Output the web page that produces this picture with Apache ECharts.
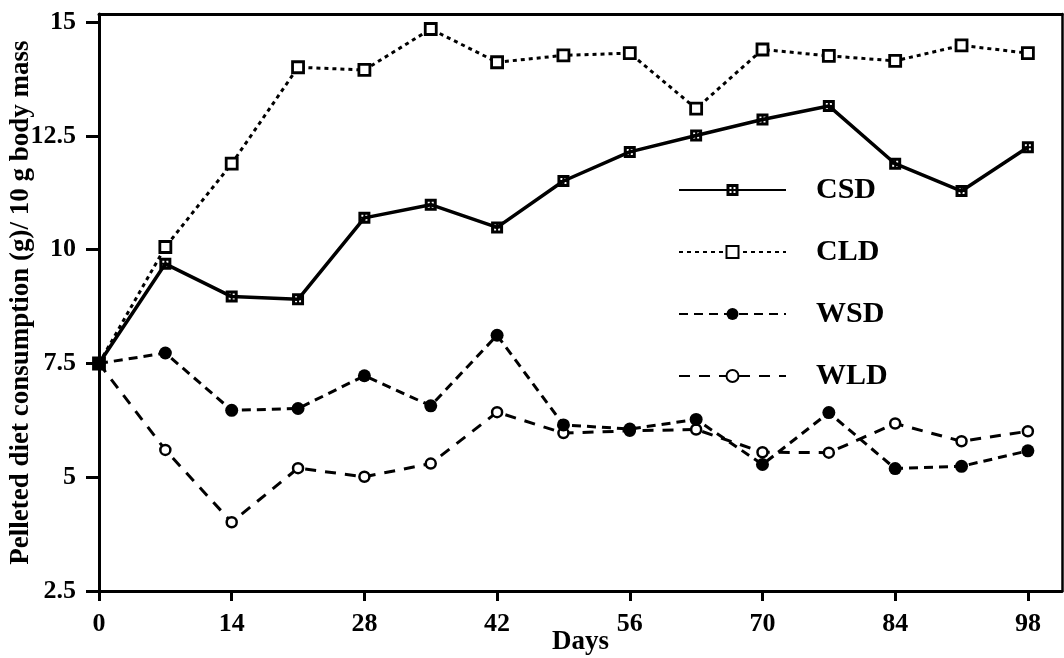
<!DOCTYPE html>
<html>
<head>
<meta charset="utf-8">
<title>Pelleted diet consumption</title>
<script src="https://cdn.jsdelivr.net/npm/echarts@6/dist/echarts.min.js"></script>
<style>
  html, body { margin: 0; padding: 0; background: #fff; }
  #chart { width: 1064px; height: 658px; }
</style>
</head>
<body>
<div id="chart"></div>
<script>
// Sampling days (weekly)
const days = [0, 7, 14, 21, 28, 35, 42, 49, 56, 63, 70, 77, 84, 91, 98];

// Consumption, g per 10 g body mass
const csd = [7.5, 9.69, 8.97, 8.91, 10.70, 10.99, 10.49, 11.51, 12.15, 12.51, 12.86, 13.16, 11.89, 11.29, 12.25];
const cld = [7.5, 10.06, 11.89, 14.01, 13.95, 14.85, 14.12, 14.27, 14.32, 13.10, 14.40, 14.26, 14.15, 14.49, 14.32];
const wsd = [7.5, 7.73, 6.47, 6.51, 7.23, 6.57, 8.12, 6.15, 6.06, 6.27, 5.28, 6.42, 5.19, 5.24, 5.58];
const wld = [7.5, 5.60, 4.01, 5.20, 5.01, 5.30, 6.43, 5.97, 6.02, 6.05, 5.55, 5.54, 6.18, 5.79, 6.01];

// Axis tick labels
const xTicks = [0, 14, 28, 42, 56, 70, 84, 98];
const yTicks = [2.5, 5, 7.5, 10, 12.5, 15];

const seriesNames = ['CSD', 'CLD', 'WSD', 'WLD'];

const FONT = '"Liberation Serif", "DejaVu Serif", serif';
const INK = '#000';

// Black square with four small white windows
const gridSquare = 'path://M0,0H12V12H0Z M3,3V5H5V3Z M7,3V5H9V3Z M3,7V9H5V7Z M7,7V9H9V7Z';

const pairs = vals => days.map((d, i) => [d, vals[i]]);

const chart = echarts.init(document.getElementById('chart'), null, { renderer: 'canvas' });

const labelStyle = { color: INK, fontFamily: FONT, fontWeight: 'bold', fontSize: 26 };

chart.setOption({
  animation: false,
  backgroundColor: '#fff',
  grid: { left: 99, right: 2, top: 14, bottom: 67, containLabel: false, outerBoundsMode: 'none' },
  legend: {
    data: seriesNames,
    orient: 'vertical',
    left: 673,
    top: 170,
    itemWidth: 107,
    itemHeight: 15,
    itemGap: 32,
    selectedMode: false,
    textStyle: {
      color: INK, fontFamily: FONT, fontWeight: 'bold', fontSize: 30,
      padding: [0, 0, 0, 25]
    }
  },
  xAxis: [{
    type: 'value',
    min: 0,
    max: 101.6,
    interval: 14,
    name: 'Days',
    nameLocation: 'middle',
    nameGap: 38,
    nameMoveOverlap: false,
    nameTextStyle: { color: INK, fontFamily: FONT, fontWeight: 'bold', fontSize: 27 },
    axisLine: { show: true, onZero: false, lineStyle: { color: INK, width: 3 } },
    axisTick: { show: true, length: 10, lineStyle: { color: INK, width: 3 }, customValues: xTicks },
    axisLabel: Object.assign({ margin: 20, customValues: xTicks }, labelStyle),
    splitLine: { show: false }
  }, {
    type: 'value',
    position: 'top',
    min: 0,
    max: 101.6,
    axisLine: { show: true, onZero: false, lineStyle: { color: INK, width: 3 } },
    axisTick: { show: false },
    axisLabel: { show: false },
    splitLine: { show: false }
  }],
  yAxis: [{
    type: 'value',
    min: 2.5,
    max: 15.18,
    interval: 2.5,
    name: 'Pelleted diet consumption (g)/ 10 g body mass',
    nameLocation: 'middle',
    nameGap: 64,
    nameMoveOverlap: false,
    nameTextStyle: { color: INK, fontFamily: FONT, fontWeight: 'bold', fontSize: 27 },
    axisLine: { show: true, onZero: false, lineStyle: { color: INK, width: 3 } },
    axisTick: { show: true, length: 13, lineStyle: { color: INK, width: 3 }, customValues: yTicks },
    axisLabel: Object.assign({ margin: 23, customValues: yTicks }, labelStyle),
    splitLine: { show: false }
  }, {
    type: 'value',
    position: 'right',
    min: 2.5,
    max: 15.18,
    axisLine: { show: true, onZero: false, lineStyle: { color: INK, width: 2.5 } },
    axisTick: { show: false },
    axisLabel: { show: false },
    splitLine: { show: false }
  }],
  series: [
    {
      name: 'CSD', type: 'line', data: pairs(csd),
      symbol: gridSquare, symbolSize: 12,
      itemStyle: { color: INK },
      lineStyle: { color: INK, width: 3.5, type: 'solid' },
      z: 4
    },
    {
      name: 'CLD', type: 'line', data: pairs(cld),
      symbol: 'rect', symbolSize: 11,
      itemStyle: { color: '#fff', borderColor: INK, borderWidth: 2.8 },
      lineStyle: { color: INK, width: 3, type: [4, 4] },
      z: 3
    },
    {
      name: 'WSD', type: 'line', data: pairs(wsd),
      symbol: 'circle', symbolSize: 13,
      itemStyle: { color: INK },
      lineStyle: { color: INK, width: 3, type: [9, 6] },
      z: 5
    },
    {
      name: 'WLD', type: 'line', data: pairs(wld),
      symbol: 'circle', symbolSize: 10,
      itemStyle: { color: '#fff', borderColor: INK, borderWidth: 2.5 },
      lineStyle: { color: INK, width: 3, type: [11, 9] },
      z: 4
    }
  ]
});
</script>
</body>
</html>
